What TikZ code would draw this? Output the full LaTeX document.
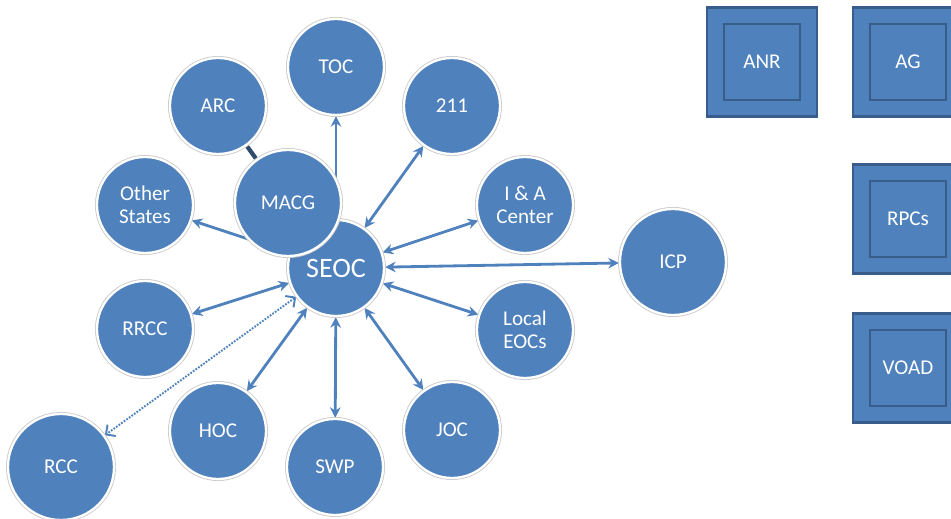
\documentclass[tikz,border=0pt]{standalone}
\usepackage{fontspec}
\setmainfont{Carlito}
\usetikzlibrary{arrows.meta,backgrounds}

\definecolor{seocblue}{RGB}{79,129,189}
\definecolor{seocedge}{RGB}{56,93,138}
\definecolor{seocdark}{RGB}{47,75,107}

\tikzset{
  agency/.style={circle, fill=seocblue, draw=white, line width=1.3pt,
    preaction={draw=black!20, line width=2.3pt},
    minimum size=1.92cm, inner sep=0pt, align=center, text=white,
    font=\fontsize{12}{13}\selectfont},
  bigagency/.style={agency, minimum size=2.12cm},
  support/.style={rectangle, fill=seocblue, draw=seocedge, line width=1.2pt,
    minimum width=2.2cm, minimum height=2.18cm},
  supportin/.style={rectangle, fill=seocblue, draw=seocedge, line width=1.2pt,
    minimum size=1.52cm, text=white, font=\fontsize{12}{13}\selectfont},
  link/.style={seocblue, line width=1.6pt, {Stealth[length=6pt, width=6pt]}-{Stealth[length=6pt, width=6pt]}},
  oneway/.style={seocblue, line width=1.6pt, -{Stealth[length=6pt, width=6pt]}},
  hint/.style={seocblue, line width=1.1pt, dash pattern=on 1pt off 0.8pt,
    {Straight Barb[length=4pt, width=8pt]}-{Straight Barb[length=4pt, width=8pt]}},
  tie/.style={seocdark, line width=2.4pt}
}

\begin{document}
\begin{tikzpicture}[x=0.02cm, y=-0.02cm]

  \useasboundingbox (0,0) rectangle (951,519);

  % centre of the hub
  \node [agency, font=\fontsize{16}{18}\selectfont] (seoc) at (336,268) {SEOC};
  \node [bigagency] (macg) at (288,203) {MACG};

  % ring of agencies
  \node [agency]    (arc)      at (218,106) {ARC};
  \node [agency]    (toc)      at (336,67)  {TOC};
  \node [agency]    (n211)     at (452,106) {211};
  \node [agency]    (other)    at (145,205) {Other\\States};
  \node [agency]    (iacenter) at (525,205) {I \& A\\Center};
  \node [bigagency] (icp)      at (673,262) {ICP};
  \node [agency]    (localeoc) at (525,330) {Local\\EOCs};
  \node [agency]    (rrcc)     at (145,329) {RRCC};
  \node [agency]    (hoc)      at (218,431) {HOC};
  \node [agency]    (swp)      at (335,467) {SWP};
  \node [agency]    (joc)      at (452,430) {JOC};
  \node [bigagency] (rcc)      at (61,467)  {RCC};

  % support boxes on the right
  \node [support] (anrbox)  at (762,62)  {};
  \node [supportin] (anr)   at (762,62)  {ANR};
  \node [support] (agbox)   at (908,62)  {};
  \node [supportin] (ag)    at (908,62)  {AG};
  \node [support] (rpcbox)  at (908,219) {};
  \node [supportin] (rpcs)  at (908,219) {RPCs};
  \node [support] (voadbox) at (908,368) {};
  \node [supportin] (voad)  at (908,368) {VOAD};

  \begin{pgfonlayer}{background}
    \draw [oneway] (seoc) -- (toc);
    \draw [oneway] (seoc) -- (other);
    \draw [link] (seoc) -- (n211);
    \draw [link] (seoc) -- (iacenter);
    \draw [link] (seoc) -- (icp);
    \draw [link] (seoc) -- (localeoc);
    \draw [link] (seoc) -- (joc);
    \draw [link] (seoc) -- (swp);
    \draw [link] (seoc) -- (hoc);
    \draw [link] (seoc) -- (rrcc);
    \draw [hint] (seoc) -- (rcc);
    \draw [tie] (arc) -- (macg);
  \end{pgfonlayer}

\end{tikzpicture}
\end{document}
